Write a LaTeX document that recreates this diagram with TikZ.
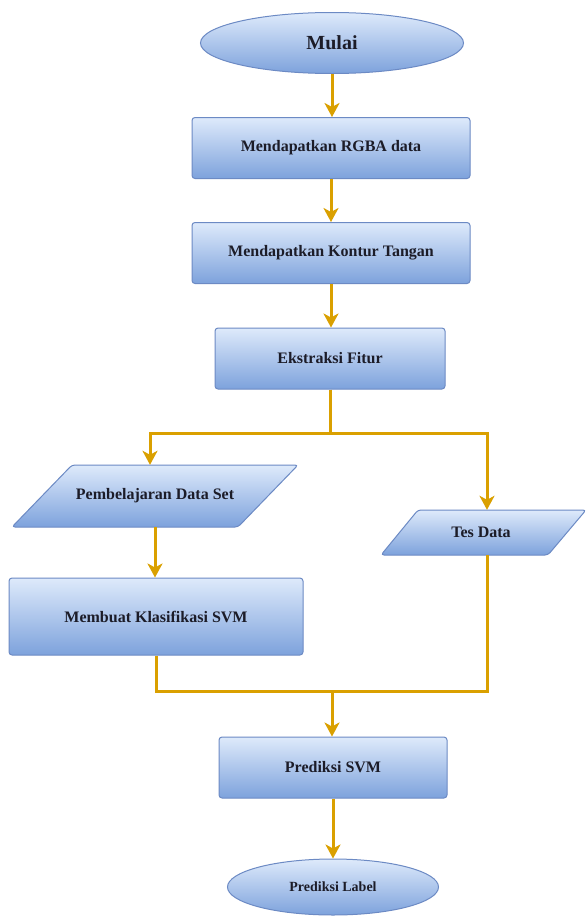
\documentclass[tikz,border=0pt]{standalone}
\usepackage{fontspec}
\setmainfont{Liberation Serif}
\usetikzlibrary{shapes.geometric,arrows.meta}
\definecolor{ftop}{RGB}{222,234,251}
\definecolor{fbot}{RGB}{125,162,220}
\definecolor{bord}{RGB}{108,138,196}
\definecolor{gold}{RGB}{218,160,0}
\definecolor{txt}{RGB}{28,28,40}
\tikzset{
 base/.style={draw=bord, line width=1pt, top color=ftop, bottom color=fbot, text=txt, font=\bfseries\fontsize{16}{18}\selectfont, inner sep=0pt},
 procbox/.style={base, rectangle, rounded corners=3pt},
 term/.style={base, ellipse},
 para/.style={draw=bord, line width=1pt, top color=ftop, bottom color=fbot, rounded corners=3pt},
 lbl/.style={text=txt, font=\bfseries\fontsize{16}{18}\selectfont, inner sep=0pt},
 conn/.style={draw=gold, line width=3pt},
 arr/.style={conn, -{Stealth[length=14pt,width=15pt,inset=4pt]}},
}
\begin{document}
\begin{tikzpicture}[x=1pt,y=-1pt]
\useasboundingbox[fill=white] (0,0) rectangle (587,916);
% shapes
\node[term, minimum width=263, minimum height=61, font=\bfseries\fontsize{20}{22}\selectfont] (mulai) at (332,43) {Mulai};
\node[procbox, minimum width=278, minimum height=61] (rgba) at (331,148) {Mendapatkan RGBA data};
\node[procbox, minimum width=278, minimum height=61] (kontur) at (331,253) {Mendapatkan Kontur Tangan};
\node[procbox, minimum width=230, minimum height=61] (ekstr) at (330,358.5) {Ekstraksi Fitur};
\path[para] (12,527) -- (72,465) -- (298,465) -- (238,527) -- cycle;
\node[lbl, minimum width=226, minimum height=62] (pds) at (155,496) {Pembelajaran Data Set};
\path[para] (381,555) -- (418,510) -- (586,510) -- (548,555) -- cycle;
\node[lbl, minimum width=130, minimum height=45] (tes) at (481,532.5) {Tes Data};
\node[procbox, minimum width=294, minimum height=77] (svm) at (156,616.5) {Membuat Klasifikasi SVM};
\node[procbox, minimum width=228, minimum height=61] (pred) at (333,767.5) {Prediksi SVM};
\node[term, minimum width=211, minimum height=56, font=\bfseries\fontsize{14}{16}\selectfont] (label) at (333,887) {Prediksi Label};
\coordinate (join) at (332,691);
% connectors
\draw[arr] (mulai.south) -- (rgba.north -| mulai.south);
\draw[arr] (rgba.south) -- (kontur.north);
\draw[arr] (kontur.south) -- (kontur.south |- ekstr.north);
\draw[arr] (ekstr.south) -- ++(0,44) -| ([xshift=-5pt]pds.north);
\draw[arr] (ekstr.south) -- ++(0,44) -| ([xshift=6pt]tes.north);
\draw[arr] (pds.south) -- (pds.south |- svm.north);
\draw[conn] (svm.south) |- (join) -| ([xshift=6pt]tes.south);
\draw[arr] (join) -- (join |- pred.north);
\draw[arr] (pred.south) -- (label.north);
\end{tikzpicture}
\end{document}
